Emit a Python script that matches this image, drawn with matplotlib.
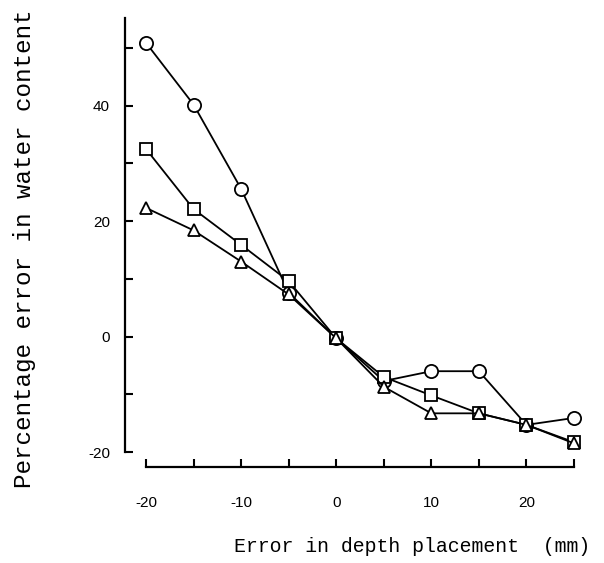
"""Percentage error in water content vs error in depth placement (three probes)."""
import matplotlib
matplotlib.use("Agg")
import matplotlib.pyplot as plt

# depth placement error (mm)
depth_err = [-20, -15, -10, -5, 0, 5, 10, 15, 20, 25]
# percentage error in water content, one list per symbol
err_circle = [50.9, 40.2, 25.6, 7.6, -0.3, -7.7, -6.0, -6.0, -15.3, -14.1]
err_square = [32.5, 22.1, 15.9, 9.6, -0.3, -7.0, -10.2, -13.3, -15.3, -18.3]
err_triangle = [22.3, 18.4, 13.0, 7.3, -0.3, -8.7, -13.3, -13.3, -15.3, -18.5]

xticks = [-20, -15, -10, -5, 0, 5, 10, 15, 20, 25]
xticklabels = ["-20", "", "-10", "", "0", "", "10", "", "20", ""]
yticks = [-20, -10, 0, 10, 20, 30, 40, 50]
yticklabels = ["-20", "", "0", "", "20", "", "40", ""]

fig = plt.figure(figsize=(6.04, 5.63), dpi=100)
ax = fig.add_axes([146 / 604, 1 - 452 / 563, 428 / 604, 434 / 563])

for ys, mk, ms in [(err_circle, "o", 9.5), (err_square, "s", 8), (err_triangle, "^", 9)]:
    ax.plot(depth_err, ys, color="black", lw=1.3, marker=mk, ms=ms,
            mfc="white", mec="black", mew=1.3, clip_on=False)

ax.set_xlim(-20, 25)
ax.set_ylim(-20, 55.2)
for s in ["top", "right"]:
    ax.spines[s].set_visible(False)
ax.spines["left"].set_position(("outward", 15))
ax.spines["bottom"].set_position(("outward", 11))
ax.spines["left"].set_linewidth(1.6)
ax.spines["bottom"].set_linewidth(1.6)

ax.set_xticks(xticks)
ax.set_xticklabels(xticklabels)
ax.set_yticks(yticks)
ax.set_yticklabels(yticklabels)
ax.tick_params(direction="in", length=6, width=1.5, labelsize=11)
ax.tick_params(axis="x", pad=21)
ax.tick_params(axis="y", pad=11)
for lab in ax.get_xticklabels() + ax.get_yticklabels():
    lab.set_family("Liberation Sans")

fig.text(25 / 604, 1 - 249 / 563, "Percentage error in water content",
         rotation=90, ha="center", va="center", family="Liberation Mono", fontsize=17.5)
fig.text(412 / 604, 1 - 547 / 563, "Error in depth placement  (mm)",
         ha="center", va="center", family="Liberation Mono", fontsize=14.3)

plt.savefig("out.png", dpi=100)
